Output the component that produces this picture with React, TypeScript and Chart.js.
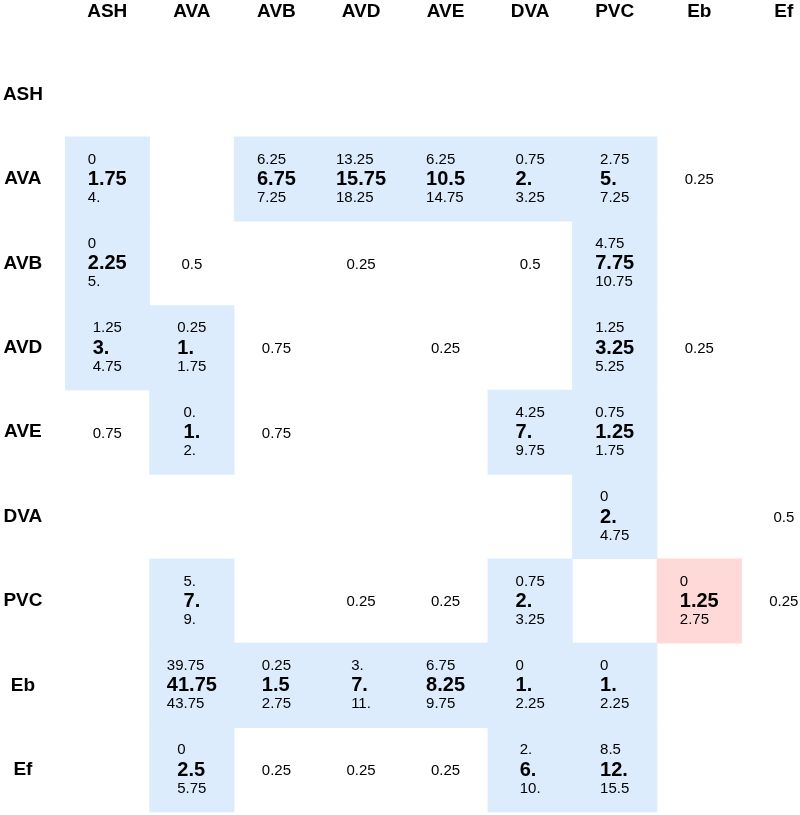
import React, { useEffect, useRef } from "react";
import { Chart, registerables } from "chart.js";

Chart.register(...registerables);

const rowLabels = ["ASH", "AVA", "AVB", "AVD", "AVE", "DVA", "PVC", "Eb", "Ef"];
const colLabels = ["ASH", "AVA", "AVB", "AVD", "AVE", "DVA", "PVC", "Eb", "Ef"];

const lowVals: string[][] = [
  ["", "", "", "", "", "", "", "", ""],
  ["0", "", "6.25", "13.25", "6.25", "0.75", "2.75", "", ""],
  ["0", "", "", "", "", "", "4.75", "", ""],
  ["1.25", "0.25", "", "", "", "", "1.25", "", ""],
  ["", "0.", "", "", "", "4.25", "0.75", "", ""],
  ["", "", "", "", "", "", "0", "", ""],
  ["", "5.", "", "", "", "0.75", "", "0", ""],
  ["", "39.75", "0.25", "3.", "6.75", "0", "0", "", ""],
  ["", "0", "", "", "", "2.", "8.5", "", ""],
];

const midVals: string[][] = [
  ["", "", "", "", "", "", "", "", ""],
  ["1.75", "", "6.75", "15.75", "10.5", "2.", "5.", "", ""],
  ["2.25", "", "", "", "", "", "7.75", "", ""],
  ["3.", "1.", "", "", "", "", "3.25", "", ""],
  ["", "1.", "", "", "", "7.", "1.25", "", ""],
  ["", "", "", "", "", "", "2.", "", ""],
  ["", "7.", "", "", "", "2.", "", "1.25", ""],
  ["", "41.75", "1.5", "7.", "8.25", "1.", "1.", "", ""],
  ["", "2.5", "", "", "", "6.", "12.", "", ""],
];

const highVals: string[][] = [
  ["", "", "", "", "", "", "", "", ""],
  ["4.", "", "7.25", "18.25", "14.75", "3.25", "7.25", "", ""],
  ["5.", "", "", "", "", "", "10.75", "", ""],
  ["4.75", "1.75", "", "", "", "", "5.25", "", ""],
  ["", "2.", "", "", "", "9.75", "1.75", "", ""],
  ["", "", "", "", "", "", "4.75", "", ""],
  ["", "9.", "", "", "", "3.25", "", "2.75", ""],
  ["", "43.75", "2.75", "11.", "9.75", "2.25", "2.25", "", ""],
  ["", "5.75", "", "", "", "10.", "15.5", "", ""],
];

const singleVals: string[][] = [
  ["", "", "", "", "", "", "", "", ""],
  ["", "", "", "", "", "", "", "0.25", ""],
  ["", "0.5", "", "0.25", "", "0.5", "", "", ""],
  ["", "", "0.75", "", "0.25", "", "", "0.25", ""],
  ["0.75", "", "0.75", "", "", "", "", "", ""],
  ["", "", "", "", "", "", "", "", "0.5"],
  ["", "", "", "0.25", "0.25", "", "", "", "0.25"],
  ["", "", "", "", "", "", "", "", ""],
  ["", "", "0.25", "0.25", "0.25", "", "", "", ""],
];

// cells (row, column) shown with the red tone instead of blue
const highlightCells: [number, number][] = [[6, 7]];

const BLUE = "#dcecfd";
const PINK = "#ffd8d8";
const FONT = "'Liberation Sans', Arial, Helvetica, sans-serif";

export default function App() {
  const ref = useRef<HTMLCanvasElement>(null);

  useEffect(() => {
    document.body.style.margin = "0";
    const points: { x: number; y: [number, number] }[] = [];
    const colors: string[] = [];
    rowLabels.forEach((_, i) => {
      colLabels.forEach((_, j) => {
        if (midVals[i][j]) {
          points.push({ x: j, y: [i - 0.5, i + 0.5] });
          const hl = highlightCells.some(([r, c]) => r === i && c === j);
          colors.push(hl ? PINK : BLUE);
        }
      });
    });

    const textPlugin = {
      id: "cellText",
      afterDatasetsDraw(chart: any) {
        const { ctx } = chart;
        const xs = chart.scales.x;
        const ys = chart.scales.y;
        const small = `15px ${FONT}`;
        const bold = `bold 20px ${FONT}`;
        ctx.save();
        ctx.fillStyle = "#000";
        ctx.textBaseline = "alphabetic";
        rowLabels.forEach((_, i) => {
          colLabels.forEach((_, j) => {
            const cx = xs.getPixelForValue(j);
            const cy = ys.getPixelForValue(i);
            const mid = midVals[i][j];
            if (mid) {
              const lo = lowVals[i][j];
              const hi = highVals[i][j];
              ctx.font = small;
              const w1 = ctx.measureText(lo).width;
              const w3 = ctx.measureText(hi).width;
              ctx.font = bold;
              const w2 = ctx.measureText(mid).width;
              const left = cx - Math.max(w1, w2, w3) / 2;
              ctx.textAlign = "left";
              ctx.font = small;
              ctx.fillText(lo, left, cy - 15.3);
              ctx.fillText(hi, left, cy + 23.1);
              ctx.font = bold;
              ctx.fillText(mid, left, cy + 6.1);
            } else if (singleVals[i][j]) {
              ctx.font = small;
              ctx.textAlign = "center";
              ctx.fillText(singleVals[i][j], cx, cy + 5.4);
            }
          });
        });
        ctx.restore();
      },
    };

    const zeroPad = (s: any) => {
      s.paddingTop = 0;
      s.paddingBottom = 0;
      s.paddingLeft = 0;
      s.paddingRight = 0;
    };

    const chart = new Chart(ref.current as HTMLCanvasElement, {
      type: "bar",
      data: {
        datasets: [
          {
            data: points as any,
            backgroundColor: colors,
            borderWidth: 0,
            grouped: false,
            categoryPercentage: 1,
            barPercentage: 1,
          } as any,
        ],
      },
      options: {
        animation: false,
        responsive: false,
        maintainAspectRatio: false,
        layout: { padding: 0, autoPadding: false },
        plugins: { legend: { display: false }, tooltip: { enabled: false } },
        scales: {
          x: {
            type: "linear",
            position: "top",
            min: -0.5,
            max: 8.191,
            offset: false,
            grid: { display: false, drawTicks: false, offset: false },
            border: { display: false },
            afterBuildTicks: (s: any) => {
              s.ticks = colLabels.map((_, k) => ({ value: k }));
            },
            afterFit: (s: any) => {
              s.height = 52.4;
              zeroPad(s);
            },
            ticks: {
              autoSkip: false,
              maxRotation: 0,
              minRotation: 0,
              padding: 29,
              color: "#000",
              font: { family: FONT, size: 19, weight: "bold" },
              callback: (v: any) => colLabels[Math.round(Number(v))] ?? "",
            },
          },
          y: {
            type: "linear",
            reverse: true,
            min: -0.5,
            max: 8.536,
            grid: { display: false, drawTicks: false },
            border: { display: false },
            afterBuildTicks: (s: any) => {
              s.ticks = rowLabels.map((_, k) => ({ value: k }));
            },
            afterFit: (s: any) => {
              s.width = 65;
              zeroPad(s);
            },
            ticks: {
              autoSkip: false,
              crossAlign: "center",
              padding: 22,
              color: "#000",
              font: { family: FONT, size: 19, weight: "bold" },
              callback: (v: any) => rowLabels[Math.round(Number(v))] ?? "",
            },
          },
        },
      } as any,
      plugins: [textPlugin],
    });
    return () => chart.destroy();
  }, []);

  return (
    <div style={{ width: 800, height: 815 }}>
      <canvas ref={ref} width={800} height={815} style={{ display: "block" }} />
    </div>
  );
}
